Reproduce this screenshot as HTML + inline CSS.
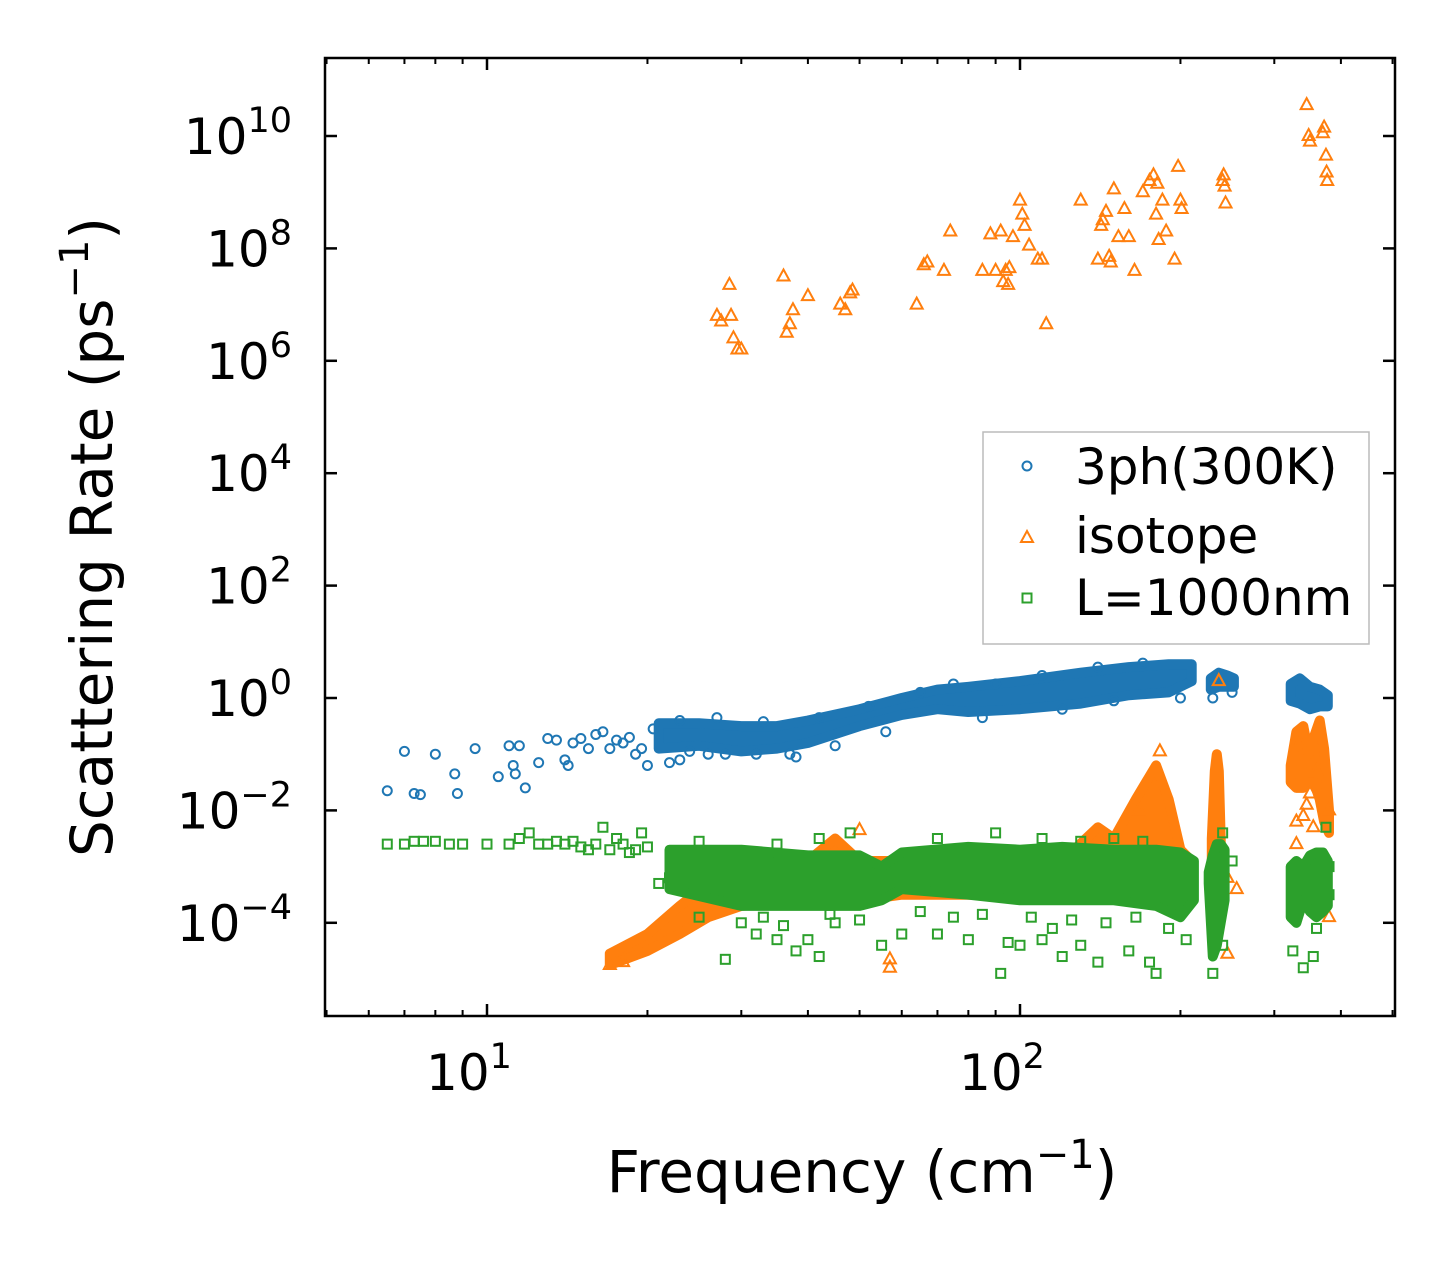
<!DOCTYPE html>
<html><head><meta charset="utf-8"><style>
body{margin:0;background:#fff;}
svg{display:block;font-family:"DejaVu Sans","Liberation Sans",sans-serif;}
</style></head><body>
<svg id="chart" width="1455" height="1265" viewBox="0 0 1455 1265">
<defs><clipPath id="pc"><rect x="325" y="58" width="1070" height="958"/></clipPath></defs>
<g id="plot" clip-path="url(#pc)"></g>
<rect x="325" y="58" width="1070" height="958" fill="none" stroke="#000" stroke-width="2.5"/>
<g id="ticks"></g>
<text x="862" y="1192" font-size="58" text-anchor="middle">Frequency (cm<tspan dy="-24" font-size="40">−1</tspan><tspan dy="24">)</tspan></text>
<text transform="translate(112,537) rotate(-90)" font-size="58" text-anchor="middle">Scattering Rate (ps<tspan dy="-24" font-size="40">−1</tspan><tspan dy="24">)</tspan></text>
<g>
<rect x="983" y="432" width="386" height="212" fill="#fff" fill-opacity="0.8" stroke="#bbb" stroke-width="1.5"/>
<circle cx="1027" cy="466" r="4.5" fill="none" stroke="#1f77b4" stroke-width="2"/>
<text x="1075" y="484" font-size="50">3ph(300K)</text>
<path d="M1021,542 L1033,542 L1027,531 Z" fill="none" stroke="#ff7f0e" stroke-width="2"/>
<text x="1075" y="553" font-size="50">isotope</text>
<rect x="1022.5" y="593.5" width="9" height="9" fill="none" stroke="#2ca02c" stroke-width="2"/>
<text x="1075" y="615" font-size="50">L=1000nm</text>
</g>
</svg>
<script>
// ---- data (x in cm^-1, y as log10 of rate) ----
const blueBandX=[21,25,30,35,40,50,60,70,80,100,130,160,190,210];
const blueBandLo=[-0.9,-0.85,-0.95,-0.9,-0.8,-0.5,-0.3,-0.2,-0.25,-0.2,-0.1,0.05,0.1,0.3];
const blueBandHi=[-0.45,-0.45,-0.5,-0.5,-0.4,-0.2,0.0,0.15,0.2,0.3,0.45,0.55,0.6,0.6];
const blueBand2X=[228,236,245,252];
const blueBand2Lo=[0.15,0.2,0.2,0.2];
const blueBand2Hi=[0.35,0.45,0.4,0.35];
const blueBand3X=[322,335,350,365,378];
const blueBand3Lo=[-0.05,-0.1,-0.2,-0.15,-0.15];
const blueBand3Hi=[0.25,0.35,0.2,0.15,0.05];
const bluePts=[[6.5,-1.65],[7,-0.95],[7.3,-1.7],[7.5,-1.72],[8,-1.0],[8.7,-1.35],[8.8,-1.7],[9.5,-0.9],[10.5,-1.4],[11,-0.85],[11.2,-1.2],[11.3,-1.35],[11.5,-0.85],[11.8,-1.6],[12.5,-1.15],[13,-0.72],[13.5,-0.75],[14,-1.1],[14.2,-1.2],[14.5,-0.8],[15,-0.72],[15.5,-0.9],[16,-0.65],[16.5,-0.6],[17,-0.9],[17.5,-0.75],[18,-0.8],[18.5,-0.7],[19,-1.0],[19.5,-0.9],[20,-1.2],[20.5,-0.55],[22,-1.15],[23,-1.1],[24,-0.95],[26,-1.0],[28,-1.0],[32,-1.0],[38,-1.05],[45,-0.85],
[23,-0.4],[27,-0.35],[33,-0.42],[37,-1.0],[42,-0.35],[52,-0.15],[56,-0.6],[65,0.1],[75,0.25],[85,-0.35],[90,0.25],[110,0.4],[120,-0.2],[140,0.55],[150,-0.05],[170,0.62],[200,0.0],[230,0.0],[250,0.1]];
const orangeBandX=[17,20,23,26,30,40,45,50,60,80,100,120,140,150,165,180,190,200,210];
const orangeBandLo=[-4.75,-4.5,-4.2,-3.9,-3.7,-3.6,-3.6,-3.6,-3.5,-3.5,-3.5,-3.5,-3.5,-3.5,-3.5,-3.5,-3.6,-3.6,-3.6];
const orangeBandHi=[-4.55,-4.2,-3.7,-3.3,-3.0,-2.9,-2.5,-2.9,-2.9,-2.9,-2.9,-2.9,-2.3,-2.5,-1.8,-1.2,-1.8,-2.7,-2.9];
const orangeBand2X=[229,232,234,236,238];
const orangeBand2Lo=[-3.8,-3.8,-3.8,-3.6,-3.4];
const orangeBand2Hi=[-2.5,-1.3,-1.0,-1.3,-2.5];
const orangeBand3X=[322,330,340,348,356,365,372,380];
const orangeBand3Lo=[-1.5,-1.6,-1.6,-1.5,-1.5,-1.8,-2.2,-2.4];
const orangeBand3Hi=[-1.2,-0.6,-0.5,-1.0,-0.7,-0.4,-0.9,-2.0];
const orangePts=[[27,6.8],[27.5,6.7],[28.5,7.35],[28.7,6.8],[29,6.4],[29.5,6.2],[30,6.2],[36,7.5],[36.5,6.5],[37,6.65],[37.5,6.9],[40,7.15],[46,7.0],[47,6.9],[48,7.2],[48.5,7.25],[64,7.0],[66,7.7],[67,7.75],[72,7.6],[74,8.3],[85,7.6],[88,8.25],[90,7.6],[92,8.3],[93,7.4],[94,7.6],[95,7.35],[95.5,7.65],[97,8.2],[100,8.85],[101,8.6],[102,8.4],[104,8.05],[108,7.8],[110,7.8],[112,6.65],[130,8.85],[140,7.8],[142,8.4],[143,8.5],[145,8.65],[147,7.85],[148,7.75],[150,9.05],[153,8.2],[157,8.7],[160,8.2],[164,7.6],[170,9.0],[175,9.2],[178,9.3],[180,8.6],[181,9.15],[182,8.15],[185,8.85],[188,8.3],[195,7.8],[198,9.45],[200,8.85],[201,8.7],[240,9.2],[241,9.3],[242,9.1],[243,8.8],[345,10.55],[348,10.0],[350,9.9],[370,10.05],[372,10.15],[375,9.65],[376,9.35],[377,9.2],
[17,-4.75],[18,-4.7],[27,-3.1],[50,-2.35],[57,-4.65],[57,-4.8],[183,-0.95],[167,-2.0],[245,-4.55],[245,-3.2],[255,-3.4],[330,-2.2],[330,-2.6],[335,-0.8],[340,-2.1],[345,-1.9],[350,-1.7],[355,-2.3],[360,-1.3],[380,-2.0],[380,-3.9],[236,0.3]];
const greenBandX=[22,30,40,50,55,60,80,100,120,150,180,200,212];
const greenBandLo=[-3.4,-3.7,-3.7,-3.7,-3.6,-3.4,-3.5,-3.6,-3.6,-3.6,-3.7,-3.9,-3.6];
const greenBandHi=[-2.7,-2.7,-2.8,-2.8,-3.0,-2.75,-2.65,-2.7,-2.65,-2.7,-2.7,-2.75,-2.9];
const greenBand2X=[226,230,234,238,242];
const greenBand2Lo=[-3.3,-4.6,-4.4,-4.0,-3.6];
const greenBand2Hi=[-3.1,-2.8,-2.6,-2.6,-2.7];
const greenBand3X=[322,330,340,350,360,370,378];
const greenBand3Lo=[-3.9,-4.0,-3.6,-3.8,-3.9,-3.8,-3.7];
const greenBand3Hi=[-3.0,-2.9,-3.0,-2.8,-2.75,-2.75,-2.9];
const greenPts=[[6.5,-2.6],[7,-2.6],[7.3,-2.55],[7.6,-2.55],[8,-2.55],[8.5,-2.6],[9,-2.6],[10,-2.6],[11,-2.6],[11.5,-2.5],[12,-2.4],[12.5,-2.6],[13,-2.6],[13.5,-2.55],[14,-2.6],[14.5,-2.55],[15,-2.65],[15.5,-2.7],[16,-2.6],[16.5,-2.3],[17,-2.7],[17.5,-2.5],[18,-2.6],[18.5,-2.75],[19,-2.7],[19.5,-2.4],[20,-2.65],[21,-3.3],[22,-3.2],
[28,-4.65],[30,-4.0],[32,-4.2],[35,-4.3],[38,-4.5],[40,-4.3],[42,-4.6],[45,-4.0],[55,-4.4],[60,-4.2],[70,-4.2],[80,-4.3],[92,-4.9],[95,-4.35],[100,-4.4],[110,-4.3],[120,-4.6],[130,-4.4],[140,-4.7],[160,-4.5],[175,-4.7],[180,-4.9],[230,-4.9],[240,-4.4],[250,-2.9],[325,-4.5],[340,-4.8],[355,-4.6],[360,-4.1],[375,-2.3],[380,-3.5],[48,-2.4],[90,-2.4],[150,-2.5],[240,-2.4],[380,-3.0],
[25,-3.9],[33,-3.9],[36,-4.05],[44,-3.85],[50,-3.95],[65,-3.8],[75,-3.9],[85,-3.85],[105,-3.9],[115,-4.1],[125,-3.95],[145,-4.0],[165,-3.9],[190,-4.1],[205,-4.3],[25,-2.55],[35,-2.6],[42,-2.5],[70,-2.5],[110,-2.5],[130,-2.55],[170,-2.55]];
const yTickExps=[-4,-2,0,2,4,6,8,10];
const xTickExps=[1,2];

// ---- axis functions ----
const X0=487, DX=533, Y0=698, DY=56.2;
function sx(v){return X0+(Math.log10(v)-1)*DX;}
function sy(e){return Y0-e*DY;}
const NS="http://www.w3.org/2000/svg";
const plot=document.getElementById('plot');
const ticks=document.getElementById('ticks');
function mk(tag,attrs,parent){const e=document.createElementNS(NS,tag);for(const k in attrs)e.setAttribute(k,attrs[k]);parent.appendChild(e);return e;}
function band(xs,lo,hi,color,name){
  let p=xs.map((x,i)=>sx(x).toFixed(1)+','+sy(hi[i]).toFixed(1));
  for(let i=xs.length-1;i>=0;i--)p.push(sx(xs[i]).toFixed(1)+','+sy(lo[i]).toFixed(1));
  const e=mk('polygon',{points:p.join(' '),fill:color,stroke:color,'stroke-width':10,'stroke-linejoin':'round'},plot);
  
  
}
function circ(pts){pts.forEach(d=>{const e=mk('circle',{cx:sx(d[0]),cy:sy(d[1]),r:4.5,fill:'none',stroke:'#1f77b4','stroke-width':2},plot);
  
  });}
function tri(pts){pts.forEach(d=>{const x=sx(d[0]),y=sy(d[1]);const e=mk('path',{d:`M${x-6},${y+4} L${x+6},${y+4} L${x},${y-7} Z`,fill:'none',stroke:'#ff7f0e','stroke-width':2},plot);
  
  });}
function sq(pts){pts.forEach(d=>{const x=sx(d[0]),y=sy(d[1]);const e=mk('rect',{x:x-4.5,y:y-4.5,width:9,height:9,fill:'none',stroke:'#2ca02c','stroke-width':2},plot);
  
  });}

band(blueBandX,blueBandLo,blueBandHi,'#1f77b4','band-3ph');
band(blueBand2X,blueBand2Lo,blueBand2Hi,'#1f77b4','band-3ph-2');
band(blueBand3X,blueBand3Lo,blueBand3Hi,'#1f77b4','band-3ph-3');
circ(bluePts);
band(orangeBandX,orangeBandLo,orangeBandHi,'#ff7f0e','band-isotope');
band(orangeBand2X,orangeBand2Lo,orangeBand2Hi,'#ff7f0e','band-isotope-2');
band(orangeBand3X,orangeBand3Lo,orangeBand3Hi,'#ff7f0e','band-isotope-3');
tri(orangePts);
band(greenBandX,greenBandLo,greenBandHi,'#2ca02c','band-boundary');
band(greenBand2X,greenBand2Lo,greenBand2Hi,'#2ca02c','band-boundary-2');
band(greenBand3X,greenBand3Lo,greenBand3Hi,'#2ca02c','band-boundary-3');
sq(greenPts);

// ticks
function line(x1,y1,x2,y2,w){mk('line',{x1,y1,x2,y2,stroke:'#000','stroke-width':w},ticks);}
yTickExps.forEach(e=>{const y=sy(e);
  line(325,y,337,y,2.5);line(1395,y,1383,y,2.5);
  const t=mk('text',{x:292,y:y+18,'font-size':50,'text-anchor':'end'},ticks);
  
  
  t.innerHTML='10<tspan dy="-22" font-size="35">'+(e<0?'−'+(-e):e)+'</tspan>';
});
for(let d=0;d<=2;d++){for(let m=1;m<=9;m++){const v=m*Math.pow(10,d);const x=sx(v);if(x<326||x>1394)continue;
  const major=(m===1);const L=major?12:6;
  line(x,1016,x,1016-L,major?2.5:2);line(x,58,x,58+L,major?2.5:2);}}
xTickExps.forEach(e=>{const t=mk('text',{x:sx(Math.pow(10,e))-18,y:1090,'font-size':50,'text-anchor':'middle'},ticks);
  
  
  t.innerHTML='10<tspan dy="-22" font-size="35">'+e+'</tspan>';});
</script>
</body></html>
